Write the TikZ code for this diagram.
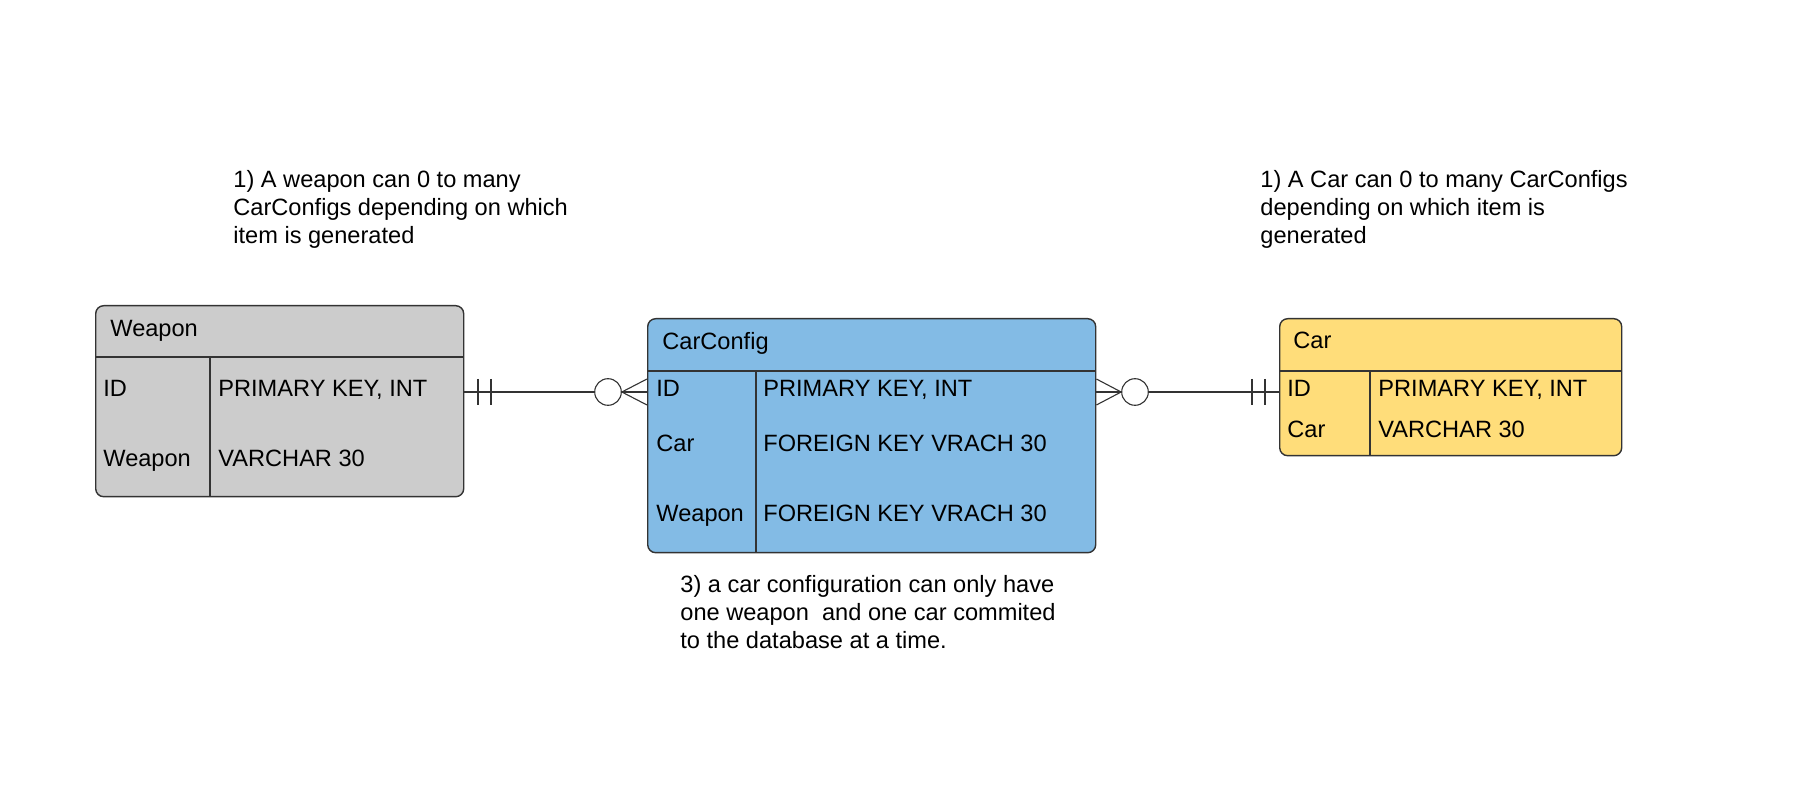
\documentclass[tikz,border=0pt]{standalone}
\usepackage{fontspec}
\setmainfont{Liberation Sans}
\usepackage{xcolor}
\usetikzlibrary{positioning,calc}
\definecolor{weaponfill}{HTML}{CCCCCC}
\definecolor{configfill}{HTML}{83BBE5}
\definecolor{carfill}{HTML}{FFDD7A}
\definecolor{edgegray}{HTML}{333333}

\begin{document}
\begin{tikzpicture}[x=0.5pt,y=-0.5pt,
  entity/.style={draw=edgegray,line width=0.7pt,rounded corners=4pt,anchor=north west,inner sep=0pt},
  divider/.style={draw=edgegray,line width=0.7pt},
  field/.style={anchor=base west,inner sep=0pt,font=\fontsize{11.8}{14}\selectfont},
  note/.style={anchor=north west,inner sep=0pt,align=left,font=\fontsize{11.8}{14}\selectfont},
  link/.style={draw=edgegray,line width=0.55pt},
  zeroend/.style={circle,draw=edgegray,line width=0.55pt,fill=white,minimum size=13.3pt,inner sep=0pt}]
  \useasboundingbox (0,0) rectangle (1800,812);

  % Weapon
  \node[entity,fill=weaponfill,minimum width=184pt,minimum height=95.5pt] (weapon) at (95,305) {};
  \draw[divider] (weapon.west |- 0,357) -- (weapon.east |- 0,357);
  \draw[divider] (210,357) -- (weapon.south -| 210,0);
  \node[field] (wtitle) at (110,337) {Weapon};
  \node[field] (wid) at (103,397) {ID};
  \node[field] (widtype) at (218,397) {PRIMARY KEY, INT};
  \node[field] (wname) at (103,467) {Weapon};
  \node[field] (wnametype) at (218,467) {VARCHAR 30};

  % CarConfig
  \node[entity,fill=configfill,minimum width=224pt,minimum height=117pt] (config) at (647,318) {};
  \draw[divider] (config.west |- 0,371) -- (config.east |- 0,371);
  \draw[divider] (756,371) -- (config.south -| 756,0);
  \node[field] (ctitle) at (662,350) {CarConfig};
  \node[field] (cid) at (656,397) {ID};
  \node[field] (cidtype) at (763,397) {PRIMARY KEY, INT};
  \node[field] (ccar) at (656,452) {Car};
  \node[field] (ccartype) at (763,452) {FOREIGN KEY VRACH 30};
  \node[field] (cweapon) at (656,522) {Weapon};
  \node[field] (cweapontype) at (763,522) {FOREIGN KEY VRACH 30};

  % Car
  \node[entity,fill=carfill,minimum width=171pt,minimum height=68.5pt] (car) at (1279,318) {};
  \draw[divider] (car.west |- 0,371) -- (car.east |- 0,371);
  \draw[divider] (1370,371) -- (car.south -| 1370,0);
  \node[field] (rtitle) at (1293,349) {Car};
  \node[field] (rid) at (1287,397) {ID};
  \node[field] (ridtype) at (1378,397) {PRIMARY KEY, INT};
  \node[field] (rname) at (1287,438) {Car};
  \node[field] (rnametype) at (1378,438) {VARCHAR 30};

  % Weapon -- CarConfig
  \node[zeroend] (wzero) at (608,392) {};
  \draw[link] (weapon.east |- 0,392) -- (wzero.west);
  \foreach \bx in {478,491}
    \draw[link] (\bx,379) -- (\bx,405);
  \draw[link] (config.west |- 0,379) -- (wzero.east) -- (config.west |- 0,405);
  \draw[link] (wzero.east) -- (config.west |- 0,392);

  % CarConfig -- Car
  \node[zeroend] (czero) at (1135,392) {};
  \draw[link] (czero.east) -- (car.west |- 0,392);
  \foreach \bx in {1252,1265}
    \draw[link] (\bx,379) -- (\bx,405);
  \draw[link] (config.east |- 0,379) -- (czero.west) -- (config.east |- 0,405);
  \draw[link] (config.east |- 0,392) -- (czero.west);

  % notes
  \node[note] (weaponnote) at (233,170) {1) A weapon can 0 to many\\CarConfigs depending on which\\item is generated};
  \node[note] (carnote) at (1260,170) {1) A Car can 0 to many CarConfigs\\depending on which item is\\generated};
  \node[note] (confignote) at (680,575) {3) a car configuration can only have\\one weapon\ \ and one car commited\\to the database at a time.};
\end{tikzpicture}
\end{document}
